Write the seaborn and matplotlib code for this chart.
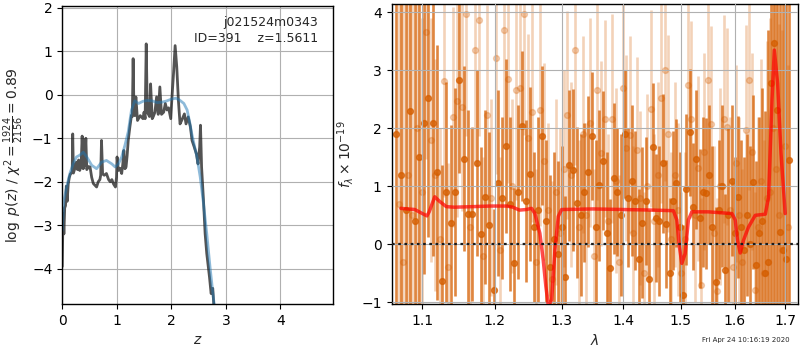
import matplotlib
matplotlib.use("Agg")
import matplotlib.pyplot as plt
import seaborn as sns
import numpy as np
from matplotlib.ticker import FixedLocator, FixedFormatter, NullLocator

# ---------------- data: left panel (log p(z)) ----------------
pz_z = [0.000, 0.010, 0.018, 0.030, 0.045, 0.060, 0.075, 0.090, 0.110, 0.130,
        0.150, 0.170, 0.183, 0.192, 0.205, 0.230, 0.260, 0.280, 0.300, 0.320,
        0.345, 0.365, 0.385, 0.410, 0.433, 0.450, 0.480, 0.510, 0.540, 0.570,
        0.600, 0.630, 0.660, 0.690, 0.705, 0.720, 0.740, 0.770, 0.810, 0.850,
        0.880, 0.910, 0.940, 0.975, 0.995, 1.005, 1.030, 1.060, 1.090, 1.110,
        1.130, 1.150, 1.170, 1.190, 1.210, 1.240, 1.270, 1.285, 1.300, 1.315,
        1.330, 1.350, 1.380, 1.430, 1.480, 1.500, 1.520, 1.540, 1.560, 1.600,
        1.620, 1.650, 1.670, 1.700, 1.730, 1.760, 1.790, 1.820, 1.860, 1.890,
        1.920, 1.950, 1.990, 2.010, 2.040, 2.070, 2.100, 2.130, 2.160, 2.190,
        2.240, 2.270, 2.310, 2.350, 2.380, 2.420, 2.460, 2.490, 2.520, 2.535,
        2.555, 2.590, 2.620, 2.650, 2.700, 2.730, 2.760, 2.780]
pz_log = [-3.95, -3.10, -2.73, -3.20, -2.60, -2.55, -2.10, -2.45, -2.05, -1.90,
          -1.82, -1.80, -1.75, -0.90, -1.80, -1.70, -1.55, -1.72, -1.50, -1.74,
          -1.65, -0.95, -1.70, -1.60, -1.00, -1.72, -1.65, -1.66, -1.90, -2.04,
          -2.08, -2.12, -2.00, -1.95, -1.85, -1.05, -1.82, -1.85, -1.81, -1.95,
          -2.00, -1.95, -2.05, -2.12, -1.90, -1.43, -1.74, -1.69, -1.81, -1.60,
          -1.28, -1.70, -1.66, -1.40, -1.05, -0.74, -0.47, -0.50, 0.83, -0.35,
          -0.48, -0.05, -0.59, -0.48, -0.55, -0.40, -0.55, 1.17, -0.40, -0.50,
          0.25, -0.55, -0.50, -0.40, -0.05, -0.45, 0.18, -0.45, -0.40, -0.20,
          -0.35, -0.30, -0.55, -0.10, 0.48, 1.13, 0.64, -0.13, -0.67, -0.59,
          -0.44, -0.67, -0.51, -0.74, -1.05, -1.20, -1.36, -1.59, -1.20, -0.70,
          -1.66, -2.43, -3.19, -3.65, -4.19, -4.57, -4.45, -4.85]

smooth_z = [0.000, 0.030, 0.080, 0.140, 0.200, 0.260, 0.320, 0.386, 0.450, 0.540,
            0.630, 0.720, 0.810, 0.910, 0.970, 1.030, 1.090, 1.150, 1.210, 1.270,
            1.330, 1.400, 1.480, 1.560, 1.650, 1.740, 1.830, 1.920, 2.000, 2.080,
            2.150, 2.230, 2.290, 2.340, 2.376, 2.420, 2.470, 2.530, 2.590, 2.650,
            2.710, 2.770, 2.790]
smooth_log = [-3.12, -2.43, -2.12, -1.81, -1.59, -1.43, -1.39, -1.32, -1.43, -1.62,
              -1.70, -1.55, -1.51, -1.59, -1.66, -1.59, -1.43, -1.16, -0.85, -0.35,
              -0.14, -0.20, -0.15, -0.13, -0.14, -0.18, -0.17, -0.14, -0.10, -0.08,
              -0.12, -0.20, -0.35, -0.65, -0.90, -1.15, -1.43, -1.89, -2.50, -3.19,
              -3.96, -4.65, -4.85]

# ---------------- data: right panel (spectrum) ----------------
wave_a = [1.066, 1.072, 1.078, 1.084, 1.090, 1.096, 1.102, 1.108, 1.114, 1.120,
          1.126, 1.132, 1.138, 1.144, 1.150, 1.156, 1.162, 1.168, 1.174, 1.180,
          1.186, 1.192, 1.198, 1.204, 1.210, 1.216, 1.222, 1.228, 1.234, 1.240,
          1.246, 1.252, 1.258, 1.264, 1.270, 1.276, 1.282, 1.288, 1.294, 1.300,
          1.306, 1.312, 1.318, 1.324, 1.330, 1.336, 1.342, 1.348, 1.354, 1.360,
          1.366, 1.372, 1.378, 1.384, 1.390, 1.396, 1.402, 1.408, 1.414, 1.420,
          1.426, 1.432, 1.438, 1.444, 1.450, 1.456, 1.462, 1.468, 1.474, 1.480,
          1.486, 1.492, 1.498, 1.504, 1.510, 1.516, 1.522, 1.528, 1.534, 1.540,
          1.546, 1.552, 1.558, 1.564, 1.570, 1.576, 1.582, 1.588, 1.594, 1.600,
          1.606, 1.612, 1.618, 1.624, 1.630, 1.636, 1.642, 1.648, 1.654, 1.660,
          1.666, 1.672, 1.678, 1.684, 1.690, 1.696, 1.702, 1.708]
flux_a = [1.91, 1.20, 0.60, 2.30, 0.40, 1.50, 2.09, 2.52, 2.10, 1.24,
          -0.63, 0.90, 0.36, 0.90, 2.83, 1.48, 0.52, 0.52, 1.40, 0.17,
          0.82, 0.33, -0.79, 1.06, 0.80, 1.70, 0.70, -0.33, 0.90, 2.04,
          0.75, 1.21, 0.30, 0.60, 1.87, 0.40, -0.40, 0.10, -0.16, 0.30,
          -0.57, 1.36, 1.28, 0.72, 0.50, 0.90, 1.25, 1.87, 0.30, 1.02,
          1.44, 0.20, -0.41, 1.14, 0.90, 0.50, 1.90, 0.80, 1.10, 0.75,
          -0.25, 0.37, 0.75, -0.60, 1.68, 0.45, 0.40, 1.40, 0.35, -0.50,
          0.75, 1.06, 0.30, -0.87, 0.95, 1.93, 0.65, 1.47, 0.45, 0.90,
          0.88, 1.20, 0.30, -0.65, 0.60, 1.00, -0.44, 0.50, 1.10, 0.20,
          0.82, 0.30, -0.10, 0.50, 0.00, 1.08, -0.36, 0.19, 0.40, -0.50,
          -0.30, 2.78, 3.48, 2.32, 0.22, -0.10, -0.25, 1.45]
err_a = [6.5, 6.0, 5.5, 6.0, 5.0, 4.5, 2.6, 2.4, 2.3, 2.2,
         2.0, 1.9, 1.7, 1.8, 1.6, 1.6, 1.8, 1.5, 1.6, 1.5,
         1.5, 1.6, 1.4, 1.6, 1.4, 1.5, 1.5, 1.3, 1.5, 1.3,
         1.4, 1.5, 1.3, 1.6, 1.2, 1.4, 1.6, 1.5, 1.6, 1.4,
         1.4, 1.3, 1.4, 1.3, 1.4, 1.2, 1.3, 1.1, 1.5, 1.3,
         1.2, 1.4, 1.2, 1.3, 1.1, 1.4, 1.1, 1.2, 1.3, 1.2,
         1.2, 1.3, 1.1, 1.2, 1.1, 1.1, 1.3, 1.2, 1.1, 1.3,
         1.2, 1.1, 1.3, 1.2, 1.3, 1.1, 1.1, 1.2, 1.2, 1.3,
         1.3, 1.2, 1.4, 1.3, 1.2, 1.4, 1.3, 1.5, 1.3, 1.3,
         1.4, 1.5, 1.6, 1.4, 1.7, 1.5, 1.8, 2.0, 2.3, 2.8,
         4.0, 5.0, 5.5, 5.0, 5.5, 6.0, 5.5, 6.0]

wave_b = [1.069, 1.075, 1.081, 1.087, 1.093, 1.099, 1.105, 1.111, 1.117, 1.123,
          1.129, 1.135, 1.141, 1.147, 1.153, 1.159, 1.165, 1.171, 1.177, 1.183,
          1.189, 1.195, 1.201, 1.207, 1.213, 1.219, 1.225, 1.231, 1.237, 1.243,
          1.249, 1.255, 1.261, 1.267, 1.273, 1.279, 1.285, 1.291, 1.297, 1.303,
          1.309, 1.315, 1.321, 1.327, 1.333, 1.339, 1.345, 1.351, 1.357, 1.363,
          1.369, 1.375, 1.381, 1.387, 1.393, 1.399, 1.405, 1.411, 1.417, 1.423,
          1.429, 1.435, 1.441, 1.447, 1.453, 1.459, 1.465, 1.471, 1.477, 1.483,
          1.489, 1.495, 1.501, 1.507, 1.513, 1.519, 1.525, 1.531, 1.537, 1.543,
          1.549, 1.555, 1.561, 1.567, 1.573, 1.579, 1.585, 1.591, 1.597, 1.603,
          1.609, 1.615, 1.621, 1.627, 1.633, 1.639, 1.645, 1.651, 1.657, 1.663,
          1.669, 1.675, 1.681, 1.687, 1.693, 1.699, 1.705]
flux_b = [0.70, -0.30, 1.20, 0.50, 2.00, 0.90, 3.67, 1.80, 1.20, 0.10,
          2.82, -0.40, 2.20, 2.47, 2.37, 3.97, 0.30, 3.35, 3.87, -0.20,
          2.23, 0.80, 3.21, -0.10, 3.70, 2.86, 1.00, 2.66, 2.69, 3.98,
          1.83, 2.29, -0.30, 2.32, 1.43, 0.60, -0.60, 0.90, 0.20, 1.30,
          2.23, 1.20, 3.36, 0.30, 1.90, 0.50, 2.10, -0.20, 2.67, 1.57,
          2.17, 0.40, 2.17, 1.10, -0.30, 2.69, 1.66, 1.89, 0.20, 1.63,
          0.80, -0.50, 1.00, 2.34, 0.40, 1.20, 2.52, 3.00, 1.91, 0.10,
          1.20, 0.60, -0.50, 0.10, 2.75, 2.16, 0.50, 1.31, -0.70, 1.60,
          2.84, 2.07, 0.20, -0.80, 1.00, 2.16, 2.03, 0.60, -0.40, 1.40,
          0.50, -0.30, 1.98, 2.84, 1.60, -0.79, 0.30, 1.10, -0.50, 0.80,
          0.90, 2.00, 1.30, 0.50, -0.10, 1.70, 0.30]
err_b = [5.0, 4.5, 4.5, 4.0, 3.5, 3.0, 2.2, 2.1, 2.0, 1.9,
         2.0, 1.8, 1.9, 2.0, 1.8, 2.1, 1.7, 2.0, 2.0, 1.7,
         1.9, 1.7, 2.0, 1.6, 2.0, 1.8, 1.5, 1.9, 1.7, 2.1,
         1.8, 1.9, 1.6, 2.0, 1.7, 1.5, 1.7, 1.6, 1.8, 1.7,
         1.8, 1.6, 2.0, 1.5, 1.7, 1.6, 1.8, 1.5, 1.9, 1.6,
         1.7, 1.5, 1.8, 1.6, 1.5, 1.9, 1.6, 1.7, 1.5, 1.6,
         1.5, 1.4, 1.6, 1.7, 1.5, 1.6, 1.8, 1.9, 1.7, 1.5,
         1.6, 1.5, 1.4, 1.5, 1.8, 1.7, 1.5, 1.6, 1.5, 1.7,
         1.8, 1.7, 1.5, 1.6, 1.7, 1.8, 1.7, 1.6, 1.5, 1.7,
         1.7, 1.6, 1.8, 1.9, 1.7, 1.7, 1.9, 2.1, 2.3, 2.7,
         3.0, 3.3, 3.6, 3.3, 3.8, 3.3, 2.8]

model_wave = [1.072, 1.090, 1.100, 1.106, 1.109, 1.1164, 1.123, 1.132, 1.143, 1.169,
              1.193, 1.217, 1.226, 1.236, 1.246, 1.254, 1.259, 1.2665, 1.2716, 1.2757,
              1.2793, 1.2845, 1.2896, 1.2948, 1.300, 1.350, 1.400, 1.450, 1.4865, 1.4927,
              1.4973, 1.5017, 1.5077, 1.5136, 1.5199, 1.550, 1.5949, 1.601, 1.6055, 1.6107,
              1.6171, 1.6269, 1.640, 1.660, 1.6665, 1.6733, 1.678, 1.6846, 1.6915, 1.700]
model_flux = [0.62, 0.60, 0.53, 0.49, 0.56, 0.82, 0.74, 0.65, 0.64, 0.65,
              0.66, 0.66, 0.64, 0.59, 0.60, 0.62, 0.53, 0.19, -0.27, -0.73,
              -1.05, -0.96, -0.10, 0.48, 0.60, 0.61, 0.60, 0.59, 0.58, 0.42,
              -0.04, -0.33, -0.16, 0.42, 0.56, 0.56, 0.53, 0.42, 0.07, -0.15,
              0.07, 0.30, 0.50, 0.52, 0.82, 2.49, 3.35, 2.78, 1.57, 0.53]

wave_ticks = [1.1, 1.2, 1.3, 1.4, 1.5, 1.6, 1.7]
wave_ticklabels = ["1.1", "1.2", "1.3", "1.4", "1.5", "1.6", "1.7"]

title_lines = ["j021524m0343", "ID=391    z=1.5611"]
timestamp = "Fri Apr 24 10:16:19 2020"

# ---------------- style ----------------
sns.set_theme(style="ticks", context="notebook")
plt.rcParams.update({
    "font.family": ["DejaVu Sans"],
    "xtick.labelsize": 10, "ytick.labelsize": 10, "axes.labelsize": 10,
    "axes.edgecolor": "black", "axes.linewidth": 1.0,
    "xtick.color": "black", "ytick.color": "black",
    "xtick.major.size": 3.5, "ytick.major.size": 3.5,
    "xtick.major.width": 0.8, "ytick.major.width": 0.8,
    "grid.color": "#b0b0b0", "grid.linewidth": 0.8,
    "mathtext.fontset": "dejavusans",
})

fig = plt.figure(figsize=(8, 3.5), dpi=100)
ax1 = fig.add_axes([0.0778, 0.1314, 0.3388, 0.8514])
ax2 = fig.add_axes([0.4894, 0.1314, 0.5085, 0.8563])

# ---------------- left panel ----------------
sns.lineplot(x=pz_z, y=pz_log, ax=ax1, color="k", alpha=0.75, lw=2.0,
             sort=False, estimator=None)
sns.lineplot(x=smooth_z, y=smooth_log, ax=ax1, color="tab:blue", alpha=0.5, lw=2.0,
             sort=False, estimator=None)
ax1.set_xlim(0, 4.97)
ax1.set_ylim(-4.81, 2.04)
ax1.set_xticks([0, 1, 2, 3, 4])
ax1.set_yticks([-4, -3, -2, -1, 0, 1, 2])
ax1.grid(True)
ax1.set_xlabel(r"$z$")
ax1.set_ylabel(r"$\log\ p(z)$ / $\chi^2=\frac{1924}{2156}=0.89$")
ax1.text(0.945, 0.965, "\n".join(title_lines), transform=ax1.transAxes,
         ha="right", va="top", fontsize=9, linespacing=1.25)

# ---------------- right panel ----------------
g141 = (0.8352941176470589, 0.3686274509803922, 0.0)
ax2.errorbar(wave_b, flux_b, yerr=err_b, color=g141, alpha=0.28, marker="o",
             ms=4.2, ls="none", elinewidth=1.9, zorder=2)
ax2.errorbar(wave_a, flux_a, yerr=err_a, color=g141, alpha=0.75, marker="o",
             ms=4.2, ls="none", elinewidth=1.9, zorder=2)
sns.lineplot(x=model_wave, y=model_flux, ax=ax2, color="red", alpha=0.7, lw=2.5,
             sort=False, estimator=None, zorder=5)
ax2.axhline(0, color="k", ls=(0, (1.2, 1.6)), lw=1.6, zorder=6)

ax2.set_xscale("log")
ax2.set_xlim(1.06, 1.727)
ax2.set_ylim(-1.03, 4.14)
ax2.xaxis.set_major_locator(FixedLocator(wave_ticks))
ax2.xaxis.set_major_formatter(FixedFormatter(wave_ticklabels))
ax2.xaxis.set_minor_locator(NullLocator())
ax2.set_yticks([-1, 0, 1, 2, 3, 4])
ax2.set_axisbelow(False)
ax2.grid(True, zorder=3)
ax2.set_xlabel(r"$\lambda$")
ax2.set_ylabel(r"$f_\lambda \times 10^{-19}$")

fig.text(0.987, 0.028, timestamp, ha="right", va="center", fontsize=5)

fig.savefig("out.png", dpi=100)
